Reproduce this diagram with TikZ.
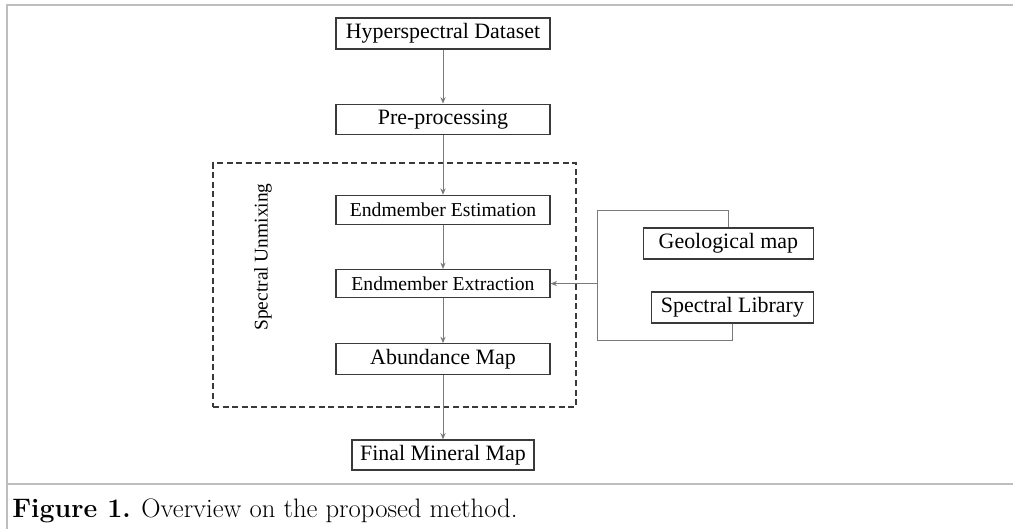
\documentclass[tikz,border=0pt]{standalone}
\usepackage{fontspec}
\usepackage{tikz}
\usetikzlibrary{arrows.meta,positioning,calc}
\newfontfamily\figfont{Liberation Serif}
\definecolor{borda}{HTML}{3A3A3A}
\definecolor{linha}{HTML}{7A7A7A}
\definecolor{moldura}{HTML}{BEBEBE}

\begin{document}
\begin{tikzpicture}[>={Stealth[length=1.6mm,width=1.3mm]}, node distance=11mm,
  font=\figfont\fontsize{15.6}{17}\selectfont,
  proc/.style={draw=borda, line width=0.3mm, minimum width=53.5mm, minimum height=7.5mm, inner sep=0pt},
  src/.style={proc, minimum height=7.75mm},
  ln/.style={draw=linha, line width=0.25mm},
  grp/.style={draw=borda, line width=0.3mm, dash pattern=on 1.5mm off 0.9mm, inner sep=0pt}]
  \useasboundingbox (0,0) rectangle (253.25mm,132.25mm);
  \draw[moldura, line width=0.5mm] (253.25mm,131mm) -- (1.625mm,131mm) -- (1.625mm,0);
  \draw[moldura, line width=0.5mm] (1.625mm,11.25mm) -- (253.25mm,11.25mm);
  \node[src] (hd) at (110.75mm,123.875mm) {Hyperspectral Dataset};
  \node[proc, below=13.5mm of hd] (pp) {Pre-processing};
  \node[proc, below=15mm of pp, minimum height=7.25mm, font=\figfont\fontsize{14}{16}\selectfont] (est) {Endmember Estimation};
  \node[proc, below=of est, minimum height=7mm, font=\figfont\fontsize{14}{16}\selectfont] (ext) {Endmember Extraction};
  \node[src, below=11.25mm of ext] (ab) {Abundance Map};
  \node[proc, below=16mm of ab, minimum width=45.5mm] (fm) {Final Mineral Map};
  \node[grp, minimum width=90.75mm, minimum height=61mm] (su) at (98.625mm,61mm) {};
  \node[rotate=90, font=\figfont\fontsize{13.8}{16}\selectfont] (sulbl) at (65.75mm,68mm) {Spectral Unmixing};
  \node[src, minimum width=42.5mm, anchor=east] (geo) at (203.5mm,71.375mm) {Geological map};
  \node[src, minimum width=40.5mm, anchor=east] (lib) at (203.5mm,55.375mm) {Spectral Library};
  \coordinate[right=11.75mm of ext.east] (jn);
  \draw[ln, ->] (hd) -- (pp);
  \draw[ln, ->] (pp) -- (est);
  \draw[ln, ->] (est) -- (ext);
  \draw[ln, ->] (ext) -- (ab);
  \draw[ln, ->] (ab) -- (fm);
  \draw[ln] (geo.north) -- ++(0,4.25mm) -| (jn);
  \draw[ln] (lib.south) -- ++(0,-4.25mm) -| (jn);
  \draw[ln, ->] (jn) -- (ext);
  \node[anchor=base west, inner sep=0pt, font=\fontsize{19}{22}\selectfont] (cap) at (3mm,3mm) {\textbf{Figure 1.} Overview on the proposed method.};
\end{tikzpicture}
\end{document}
